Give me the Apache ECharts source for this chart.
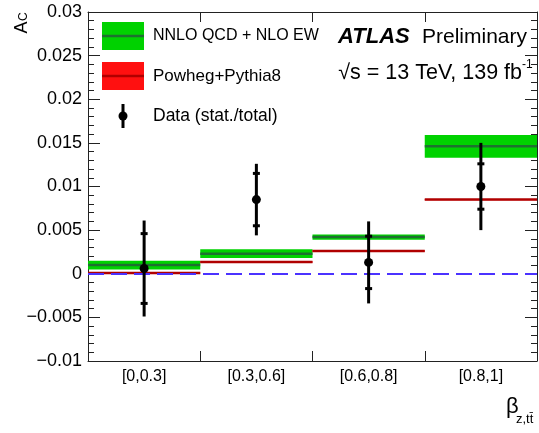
<!DOCTYPE html>
<html>
<head>
<meta charset="utf-8">
<script src="https://cdn.jsdelivr.net/npm/echarts@6/dist/echarts.min.js"></script>
<style>
  html, body { margin: 0; padding: 0; background: #fff; }
  #chart { width: 539px; height: 433px; }
</style>
</head>
<body>
<div id="chart"></div>
<script>
// Charge asymmetry A_C in bins of beta_{z,ttbar}
const categories = ['[0,0.3]', '[0.3,0.6]', '[0.6,0.8]', '[0.8,1]'];

// NNLO QCD + NLO EW prediction (central value and half-width of the band)
const nnloValues = [0.0010, 0.0023, 0.0042, 0.0146];
const nnloErrors = [0.0005, 0.0005, 0.0003, 0.0013];

// Powheg+Pythia8 prediction
const powhegValues = [0.0001, 0.00135, 0.0026, 0.0085];
const powhegErrors = [0.00008, 0.00008, 0.00008, 0.00008];

// Measured values with total and statistical uncertainties
const dataValues = [0.0006, 0.0085, 0.0013, 0.0100];
const totalErrors = [0.0055, 0.0041, 0.0047, 0.0050];
const statErrors = [0.0040, 0.0030, 0.0030, 0.0026];

const yTicks = { min: -0.01, max: 0.03, step: 0.005 };

const FONT = '"Liberation Sans", Arial, Helvetica, sans-serif';

function fmtTick(v) {
  if (Math.abs(v) < 1e-12) return '0';
  const s = String(parseFloat(Math.abs(v).toFixed(4)));
  return (v < 0 ? '\u2212' : '') + s;
}

// band + central line per bin
function bandRenderer(fill, lineColor, lineWidth) {
  return function (params, api) {
    const idx = api.value(0);
    const c = api.value(1);
    const e = api.value(2);
    const w = api.size([1, 0])[0];
    const mid = api.coord([idx, c]);
    const top = api.coord([idx, c + e])[1];
    const bot = api.coord([idx, c - e])[1];
    const x0 = mid[0] - w / 2;
    return {
      type: 'group',
      children: [
        { type: 'rect', shape: { x: x0, y: top, width: w, height: bot - top },
          style: { fill: fill } },
        { type: 'line', shape: { x1: x0, y1: mid[1], x2: x0 + w, y2: mid[1] },
          style: { stroke: lineColor, lineWidth: lineWidth } }
      ]
    };
  };
}

function dataRenderer(params, api) {
  const idx = api.value(0);
  const v = api.value(1);
  const te = api.value(2);
  const se = api.value(3);
  const p = api.coord([idx, v]);
  const tHi = api.coord([idx, v + te])[1];
  const tLo = api.coord([idx, v - te])[1];
  const sHi = api.coord([idx, v + se])[1];
  const sLo = api.coord([idx, v - se])[1];
  const tw = 3.5;
  return {
    type: 'group',
    children: [
      { type: 'line', shape: { x1: p[0], y1: tHi, x2: p[0], y2: tLo },
        style: { stroke: '#000', lineWidth: 3 } },
      { type: 'line', shape: { x1: p[0] - tw, y1: sHi, x2: p[0] + tw, y2: sHi },
        style: { stroke: '#000', lineWidth: 3 } },
      { type: 'line', shape: { x1: p[0] - tw, y1: sLo, x2: p[0] + tw, y2: sLo },
        style: { stroke: '#000', lineWidth: 3 } },
      { type: 'circle', shape: { cx: p[0], cy: p[1], r: 4.5 },
        style: { fill: '#000' } }
    ]
  };
}

const chart = echarts.init(document.getElementById('chart'), null, { renderer: 'canvas' });

const axisLineStyle = { color: '#222', width: 1 };

const yAxisBase = {
  type: 'value',
  min: yTicks.min,
  max: yTicks.max,
  interval: yTicks.step,
  splitLine: { show: false },
  axisLine: { show: true, onZero: false, lineStyle: axisLineStyle },
  axisTick: { show: true, inside: true, length: 12, lineStyle: axisLineStyle },
  minorTick: { show: true, splitNumber: 5, length: 6, lineStyle: axisLineStyle },
  minorSplitLine: { show: false }
};

const xAxisBase = {
  type: 'category',
  data: categories,
  boundaryGap: true,
  axisLine: { show: true, onZero: false, lineStyle: axisLineStyle },
  axisTick: { show: true, inside: true, length: 10, alignWithLabel: false, lineStyle: axisLineStyle },
  splitLine: { show: false }
};

const option = {
  backgroundColor: '#fff',
  animation: false,
  grid: { left: 88, right: 2, top: 12, bottom: 72, containLabel: false },
  xAxis: [
    Object.assign({}, xAxisBase, {
      position: 'bottom',
      axisLabel: { show: true, color: '#000', fontFamily: FONT, fontSize: 16, margin: 8 }
    }),
    Object.assign({}, xAxisBase, {
      position: 'top',
      axisLabel: { show: false }
    })
  ],
  yAxis: [
    Object.assign({}, yAxisBase, {
      position: 'left',
      axisLabel: { show: true, color: '#000', fontFamily: FONT, fontSize: 18, margin: 6,
                   formatter: fmtTick }
    }),
    Object.assign({}, yAxisBase, {
      position: 'right',
      axisLabel: { show: false }
    })
  ],
  series: [
    {
      type: 'custom',
      name: 'NNLO QCD + NLO EW',
      renderItem: bandRenderer('#00d200', '#1e7030', 2.5),
      data: categories.map((c, i) => [i, nnloValues[i], nnloErrors[i]]),
      z: 2
    },
    {
      type: 'custom',
      name: 'Powheg+Pythia8',
      renderItem: bandRenderer('#ff1010', '#b00000', 2.5),
      data: categories.map((c, i) => [i, powhegValues[i], powhegErrors[i]]),
      z: 3,
      markLine: {
        silent: true,
        symbol: ['none', 'none'],
        label: { show: false },
        lineStyle: { color: '#4b32ff', width: 2, type: [16, 7] },
        data: [{ yAxis: 0 }]
      }
    },
    {
      type: 'custom',
      name: 'Data (stat./total)',
      renderItem: dataRenderer,
      data: categories.map((c, i) => [i, dataValues[i], totalErrors[i], statErrors[i]]),
      z: 5
    }
  ],
  graphic: [
    // y-axis title A_C, reading bottom to top
    { type: 'text', x: 13, y: 33.5, rotation: Math.PI / 2,
      style: { text: 'A', font: '18px ' + FONT, fill: '#000', align: 'left', verticalAlign: 'top' } },
    { type: 'text', x: 17.5, y: 21, rotation: Math.PI / 2,
      style: { text: 'C', font: '12px ' + FONT, fill: '#000', align: 'left', verticalAlign: 'top' } },

    // x-axis title beta_{z,ttbar}
    { type: 'text', x: 506, y: 396,
      style: { text: '\u03B2', font: '22px ' + FONT, fill: '#000', align: 'left', verticalAlign: 'top' } },
    { type: 'text', x: 516, y: 413,
      style: { text: 'z,tt\u0304', font: '13px ' + FONT, fill: '#000', align: 'left', verticalAlign: 'top' } },

    // legend entries
    { type: 'rect', shape: { x: 102, y: 22, width: 42, height: 28 }, style: { fill: '#00d200' } },
    { type: 'line', shape: { x1: 102, y1: 36, x2: 144, y2: 36 }, style: { stroke: '#1e7030', lineWidth: 2.5 } },
    { type: 'text', x: 153, y: 36,
      style: { text: 'NNLO QCD + NLO EW', font: '16px ' + FONT, fill: '#000', verticalAlign: 'middle' } },

    { type: 'rect', shape: { x: 102, y: 62, width: 42, height: 28 }, style: { fill: '#ff1010' } },
    { type: 'line', shape: { x1: 102, y1: 76, x2: 144, y2: 76 }, style: { stroke: '#b00000', lineWidth: 2.5 } },
    { type: 'text', x: 153, y: 76,
      style: { text: 'Powheg+Pythia8', font: '17px ' + FONT, fill: '#000', verticalAlign: 'middle' } },

    { type: 'line', shape: { x1: 123, y1: 104, x2: 123, y2: 128 }, style: { stroke: '#000', lineWidth: 3 } },
    { type: 'circle', shape: { cx: 123, cy: 116, r: 4.5 }, style: { fill: '#000' } },
    { type: 'text', x: 153, y: 116,
      style: { text: 'Data (stat./total)', font: '17.5px ' + FONT, fill: '#000', verticalAlign: 'middle' } },

    // experiment label
    { type: 'text', x: 338, y: 37,
      style: { text: 'ATLAS', font: 'italic bold 22px ' + FONT, fill: '#000', verticalAlign: 'middle' } },
    { type: 'text', x: 422, y: 37,
      style: { text: 'Preliminary', font: '21px ' + FONT, fill: '#000', verticalAlign: 'middle' } },
    { type: 'text', x: 522, y: 73,
      style: { text: '\u221As = 13 TeV, 139 fb', font: '21.5px ' + FONT, fill: '#000',
               align: 'right', verticalAlign: 'middle' } },
    { type: 'text', x: 522, y: 65,
      style: { text: '-1', font: '12px ' + FONT, fill: '#000', align: 'left', verticalAlign: 'middle' } }
  ]
};

chart.setOption(option);
</script>
</body>
</html>
